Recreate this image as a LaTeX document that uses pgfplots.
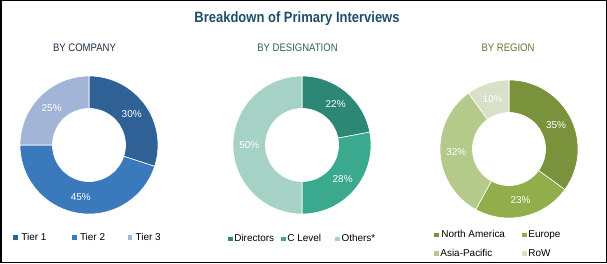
\documentclass[border=0pt]{standalone}
\usepackage{pgfplots}
\usepackage{pgfplotstable}
\pgfplotsset{compat=1.18}
\usepackage{fontspec}
\setmainfont{Liberation Sans}
\newfontfamily\titlefont{Liberation Sans}[FakeStretch=0.87]
\newfontfamily\subfont{Liberation Sans}[FakeStretch=0.87]

\definecolor{titlec}{HTML}{1F4E69}
\definecolor{sub1}{HTML}{1F2F45}
\definecolor{sub2}{HTML}{2F5F5F}
\definecolor{sub3}{HTML}{6B7237}
\definecolor{comp0}{HTML}{2F6096}
\definecolor{comp1}{HTML}{3B79BD}
\definecolor{comp2}{HTML}{A2B5D6}
\definecolor{desg0}{HTML}{2C8774}
\definecolor{desg1}{HTML}{3BA98E}
\definecolor{desg2}{HTML}{A6D2C6}
\definecolor{regn0}{HTML}{7A923C}
\definecolor{regn1}{HTML}{92AE4A}
\definecolor{regn2}{HTML}{B3CA8A}
\definecolor{regn3}{HTML}{D8E0C8}

\pgfplotstableread{
label value
Tier1 30
Tier2 45
Tier3 25
}\company
\pgfplotstableread{
label value
Directors 22
CLevel 28
Others 50
}\designation
\pgfplotstableread{
label value
NorthAmerica 35
Europe 23
AsiaPacific 32
RoW 10
}\region

\newcommand\pct{\fontsize{10}{12}\selectfont}
\newcommand\donut[2]{%
  \pgfplotstablegetrowsof{#1}%
  \pgfmathtruncatemacro\nrows{\pgfplotsretval-1}%
  \def\cum{0}%
  \pgfplotsforeachungrouped \i in {0,...,\nrows}{%
    \pgfplotstablegetelem{\i}{value}\of{#1}\let\v\pgfplotsretval
    \pgfmathsetmacro\sa{90-3.6*\cum}%
    \pgfmathsetmacro\ea{90-3.6*(\cum+\v)}%
    \pgfmathsetmacro\ma{(\sa+\ea)/2}%
    \edef\temp{\noexpand\fill[#2\i, draw=white, line width=0.6bp]
      (axis cs:{cos(\sa)},{sin(\sa)}) arc[start angle=\sa, end angle=\ea, radius=1]
      -- (axis cs:{0.53*cos(\ea)},{0.53*sin(\ea)}) arc[start angle=\ea, end angle=\sa, radius=0.53] -- cycle;
      \noexpand\node[text=white, font=\noexpand\pct, inner sep=0pt]
      at (axis cs:{0.765*cos(\ma)},{0.765*sin(\ma)}) {\v\noexpand\%};}%
    \temp
    \pgfmathsetmacro\cum{\cum+\v}%
  }%
}

\pgfplotsset{donutaxis/.style={
  hide axis, scale only axis, width=138bp, height=138bp,
  xmin=-1, xmax=1, ymin=-1, ymax=1, clip=false, anchor=center,
  legend style={draw=none, fill=none, inner sep=0pt, column sep=0pt,
    row sep=10bp, cells={anchor=west}, nodes={inner sep=0pt},
    font=\fontsize{10}{12}\selectfont},
}}

\begin{document}
\begin{tikzpicture}[x=1bp,y=1bp]
\useasboundingbox (0,0) rectangle (607,263);
\draw[line width=1.5bp] (0.75,0.75) rectangle (606.25,262.25);
\node[anchor=base, text=titlec, font=\titlefont\bfseries\fontsize{15}{18}\selectfont] at (297,241) {Breakdown of Primary Interviews};
\node[anchor=base, text=sub1, font=\subfont\fontsize{11}{13}\selectfont] at (84.5,212) {BY COMPANY};
\node[anchor=base, text=sub2, font=\subfont\fontsize{11}{13}\selectfont] at (297.5,212) {BY DESIGNATION};
\node[anchor=base, text=sub3, font=\subfont\fontsize{11}{13}\selectfont] at (508,212) {BY REGION};

\begin{axis}[donutaxis, at={(89bp,118bp)},
  legend columns=3,
  legend style={at={(-0.05,-0.17)}, anchor=west},
  legend image code/.code={\fill[#1, draw=none] (0bp,-2.3bp) rectangle (4.6bp,2.3bp);}]
\addlegendimage{fill=comp0, draw=none}\addlegendentry{\makebox[54bp][l]{\hspace{3.5bp}Tier 1}}
\addlegendimage{fill=comp1, draw=none}\addlegendentry{\makebox[51bp][l]{\hspace{3.5bp}Tier 2}}
\addlegendimage{fill=comp2, draw=none}\addlegendentry{\makebox[30bp][l]{\hspace{3.5bp}Tier 3}}
\donut{\company}{comp}
\end{axis}

\begin{axis}[donutaxis, at={(302bp,118bp)},
  legend columns=3,
  legend style={at={(-0.036,-0.18)}, anchor=west},
  legend image code/.code={\fill[#1, draw=none] (0bp,-2.3bp) rectangle (4.6bp,2.3bp);}]
\addlegendimage{fill=desg0, draw=none}\addlegendentry{\makebox[48.5bp][l]{\hspace{1.5bp}Directors}}
\addlegendimage{fill=desg1, draw=none}\addlegendentry{\makebox[49.5bp][l]{\hspace{1.5bp}C Level}}
\addlegendimage{fill=desg2, draw=none}\addlegendentry{\makebox[40bp][l]{\hspace{1.5bp}Others*}}
\donut{\designation}{desg}
\end{axis}

\begin{axis}[donutaxis, at={(509bp,114bp)},
  legend columns=2,
  legend style={at={(-0.043,-0.19)}, anchor=west},
  legend image code/.code={\fill[#1, draw=none] (0bp,-2.3bp) rectangle (4.6bp,2.3bp);}]
\addlegendimage{fill=regn0, draw=none}\addlegendentry{\makebox[83.4bp][l]{\hspace{2.5bp}North America}}
\addlegendimage{fill=regn1, draw=none}\addlegendentry{\makebox[40bp][l]{\hspace{1.5bp}Europe}}
\addlegendimage{fill=regn2, draw=none}\addlegendentry{\makebox[83.4bp][l]{\hspace{1.5bp}Asia-Pacific}}
\addlegendimage{fill=regn3, draw=none}\addlegendentry{\makebox[40bp][l]{\hspace{1.5bp}RoW}}
\donut{\region}{regn}
\end{axis}
\end{tikzpicture}
\end{document}
